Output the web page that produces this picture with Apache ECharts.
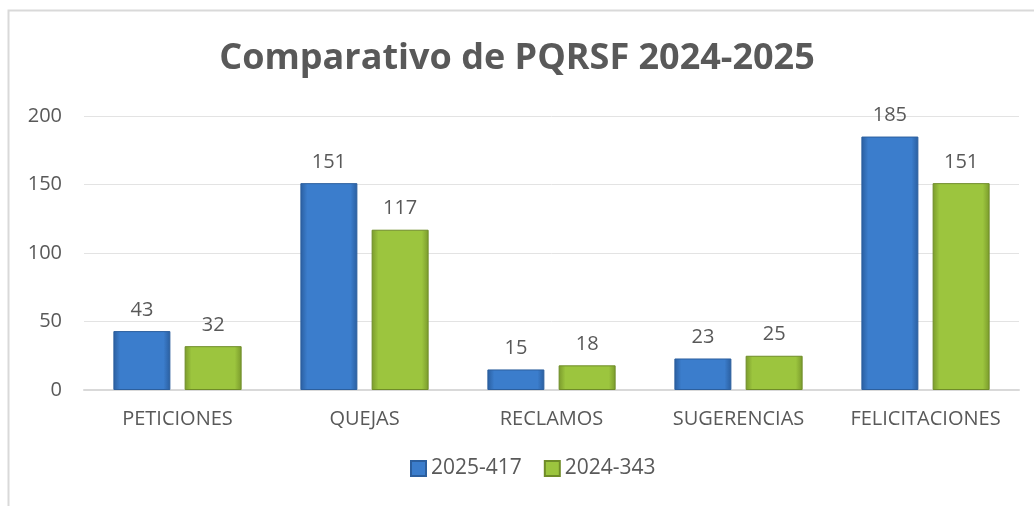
<!DOCTYPE html>
<html>
<head>
<meta charset="utf-8">
<script src="https://cdn.jsdelivr.net/npm/echarts@6/dist/echarts.min.js"></script>
<style>
  html, body { margin: 0; padding: 0; background: #fff; }
  #chart { width: 1034px; height: 506px; }
</style>
</head>
<body>
<div id="chart"></div>
<script>
// datos
var categorias = ['PETICIONES', 'QUEJAS', 'RECLAMOS', 'SUGERENCIAS', 'FELICITACIONES'];
var datos2025 = [43, 151, 15, 23, 185];
var datos2024 = [32, 117, 18, 25, 151];
var nombres = ['2025-417', '2024-343'];
var ticksY = [0, 50, 100, 150, 200];

var fuente = '"Open Sans", "Noto Sans", sans-serif';
var gris = '#595959';

// degradado horizontal para dar efecto de bisel
function degradado(borde, centro) {
  return new echarts.graphic.LinearGradient(0, 0, 1, 0, [
    { offset: 0, color: borde },
    { offset: 0.12, color: centro },
    { offset: 0.88, color: centro },
    { offset: 1, color: borde }
  ]);
}

var chart = echarts.init(document.getElementById('chart'));

var option = {
  backgroundColor: '#fff',
  title: {
    text: 'Comparativo de PQRSF 2024-2025',
    left: 'center',
    top: 36,
    textStyle: { color: gris, fontSize: 36, fontWeight: 'bold', fontFamily: fuente }
  },
  legend: {
    data: nombres,
    bottom: 22,
    left: 405,
    itemWidth: 15,
    itemHeight: 15,
    itemGap: 22,
    icon: 'rect',
    textStyle: { color: gris, fontSize: 21, fontFamily: fuente }
  },
  grid: { left: 84, right: 15, top: 116, bottom: 116 },
  xAxis: {
    type: 'category',
    data: categorias,
    axisLine: { lineStyle: { color: '#d9d9d9', width: 2 } },
    axisTick: { show: false },
    axisLabel: { color: gris, fontSize: 20, fontFamily: fuente, margin: 19, interval: 0 }
  },
  yAxis: {
    type: 'value',
    min: ticksY[0],
    max: ticksY[ticksY.length - 1],
    interval: 50,
    axisLine: { show: false },
    axisTick: { show: false },
    splitLine: { lineStyle: { color: '#e3e3e3', width: 1 } },
    axisLabel: { color: gris, fontSize: 20, fontFamily: fuente, margin: 22 }
  },
  series: [
    {
      name: nombres[0],
      type: 'bar',
      data: datos2025,
      barWidth: 57,
      barGap: '25%',
      itemStyle: { color: degradado('#2a5e9f', '#3b7dcc'), borderColor: '#2c5f9e', borderWidth: 1 },
      label: { show: true, position: 'top', distance: 11, color: gris, fontSize: 20, fontFamily: fuente }
    },
    {
      name: nombres[1],
      type: 'bar',
      data: datos2024,
      barWidth: 57,
      itemStyle: { color: degradado('#7a9a2c', '#9cc53e'), borderColor: '#6f8c28', borderWidth: 1 },
      label: { show: true, position: 'top', distance: 11, color: gris, fontSize: 20, fontFamily: fuente }
    }
  ],
  graphic: [
    {
      type: 'rect',
      shape: { x: 8.5, y: 10.5, width: 1040, height: 520 },
      style: { fill: 'none', stroke: '#d9d9d9', lineWidth: 2 },
      silent: true
    }
  ]
};

chart.setOption(option);
</script>
</body>
</html>
